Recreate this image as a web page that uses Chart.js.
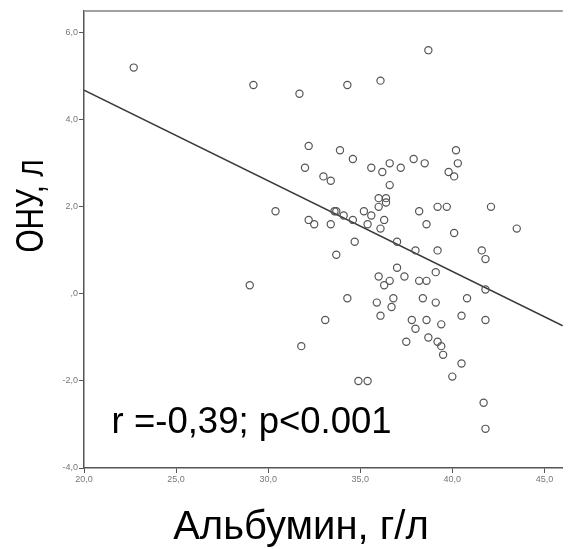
<!DOCTYPE html>
<html>
<head>
<meta charset="utf-8">
<script src="https://cdn.jsdelivr.net/npm/chart.js@4/dist/chart.umd.min.js"></script>
<style>
html,body{margin:0;padding:0;background:#fff;}
#wrap{width:568px;height:549px;position:relative;}
</style>
</head>
<body>
<div id="wrap"><canvas id="c" width="568" height="549"></canvas></div>
<script>
// Albumin (g/L) values of each observation
const albumin = [22.7,29.2,31.7,34.3,36.1,38.7,32.2,33.9,34.6,32.0,35.6,36.2,36.6,37.2,37.9,38.5,40.2,40.3,39.8,40.1,
 33.0,33.4,36.6,36.0,36.4,36.4,36.0,30.4,33.7,33.6,35.2,38.2,39.2,39.7,42.1,35.6,34.1,32.2,32.5,33.4,
 34.6,35.4,36.3,36.1,38.6,40.1,43.5,34.7,37.0,38.0,39.2,41.6,41.8,33.7,37.0,39.1,36.0,36.6,36.3,37.4,
 38.2,38.6,29.0,41.8,34.3,36.8,35.9,38.4,39.1,40.8,36.7,36.1,40.5,33.1,37.8,38.6,39.4,41.8,38.0,37.5,
 38.7,39.2,39.4,39.5,40.5,40.0,31.8,34.9,35.4,41.7,41.8];
// ОНУ (L) values of each observation
const onu = [5.2,4.8,4.6,4.8,4.9,5.6,3.4,3.3,3.1,2.9,2.9,2.8,3.0,2.9,3.1,3.0,3.3,3.0,2.8,2.7,
 2.7,2.6,2.5,2.2,2.2,2.1,2.0,1.9,1.9,1.9,1.9,1.9,2.0,2.0,2.0,1.8,1.8,1.7,1.6,1.6,
 1.7,1.6,1.7,1.5,1.6,1.4,1.5,1.2,1.2,1.0,1.0,1.0,0.8,0.9,0.6,0.5,0.4,0.3,0.2,0.4,
 0.3,0.3,0.2,0.1,-0.1,-0.1,-0.2,-0.1,-0.2,-0.1,-0.3,-0.5,-0.5,-0.6,-0.6,-0.6,-0.7,-0.6,-0.8,-1.1,
 -1.0,-1.1,-1.2,-1.4,-1.6,-1.9,-1.2,-2.0,-2.0,-2.5,-3.1];
// regression line read at the edges of the plot
const fitX = [20, 46];
const fitY = [4.68, -0.73];
const xTicks = [20,25,30,35,40,45];
const yTicks = [-4,-2,0,2,4,6];
const xTitle = 'Альбумин, г/л';
const yTitle = 'ОНУ, л';
const note = 'r =-0,39; p<0.001';

const FONT = '"Liberation Sans", Arial, sans-serif';
const fmt = v => (v === 0 ? ',0' : v.toFixed(1).replace('.', ','));

const textPlugin = {
  id: 'texts',
  afterDraw(chart) {
    const ctx = chart.ctx, ca = chart.chartArea;
    const xs = chart.scales.x, ys = chart.scales.y;
    ctx.save();
    // top frame line
    ctx.strokeStyle = '#a0a0a0';
    ctx.lineWidth = 2;
    ctx.beginPath();
    ctx.moveTo(ca.left, ca.top);
    ctx.lineTo(ca.right, ca.top);
    ctx.stroke();
    ctx.fillStyle = '#000';
    // annotation
    ctx.font = '36.5px ' + FONT;
    ctx.textAlign = 'left';
    ctx.textBaseline = 'alphabetic';
    ctx.fillText(note, xs.getPixelForValue(21.5), ys.getPixelForValue(-3.2));
    // x title
    ctx.font = '40px ' + FONT;
    ctx.textAlign = 'center';
    ctx.fillText(xTitle, 301, 539);
    // y title (slightly condensed along its length)
    ctx.font = '38px ' + FONT;
    ctx.translate(43, 206);
    ctx.rotate(-Math.PI / 2);
    ctx.scale(0.78, 1);
    ctx.fillText(yTitle, 0, 0);
    ctx.restore();
  }
};

new Chart(document.getElementById('c'), {
  type: 'scatter',
  data: {
    datasets: [
      {
        type: 'line',
        data: fitX.map((x, i) => ({x, y: fitY[i]})),
        borderColor: '#3a3a3a',
        borderWidth: 1.6,
        pointRadius: 0,
        fill: false,
        order: 2
      },
      {
        data: albumin.map((x, i) => ({x, y: onu[i]})),
        pointRadius: 3.6,
        pointBorderWidth: 1.2,
        pointBorderColor: '#555',
        pointBackgroundColor: 'rgba(255,255,255,0)',
        order: 1
      }
    ]
  },
  options: {
    responsive: false,
    animation: false,
    devicePixelRatio: 1,
    layout: {padding: {top: 11, right: 0, left: 0, bottom: 0}},
    plugins: {legend: {display: false}, tooltip: {enabled: false}},
    scales: {
      x: {
        type: 'linear', min: 20, max: 46,
        afterFit: s => { s.height = 81; },
        afterBuildTicks: s => { s.ticks = xTicks.map(v => ({value: v})); },
        grid: {drawOnChartArea: false, tickLength: 5, color: '#555', lineWidth: 1},
        border: {color: '#555', width: 1.5},
        ticks: {font: {size: 9, family: FONT}, color: '#777', padding: 1, callback: fmt, maxRotation: 0}
      },
      y: {
        type: 'linear', min: -4, max: 6.5,
        afterFit: s => { s.width = 84; },
        afterBuildTicks: s => { s.ticks = yTicks.map(v => ({value: v})); },
        grid: {drawOnChartArea: false, tickLength: 5, color: '#555', lineWidth: 1},
        border: {color: '#555', width: 1.5},
        ticks: {font: {size: 9, family: FONT}, color: '#777', padding: 1, callback: fmt}
      }
    }
  },
  plugins: [textPlugin]
});
</script>
</body>
</html>
